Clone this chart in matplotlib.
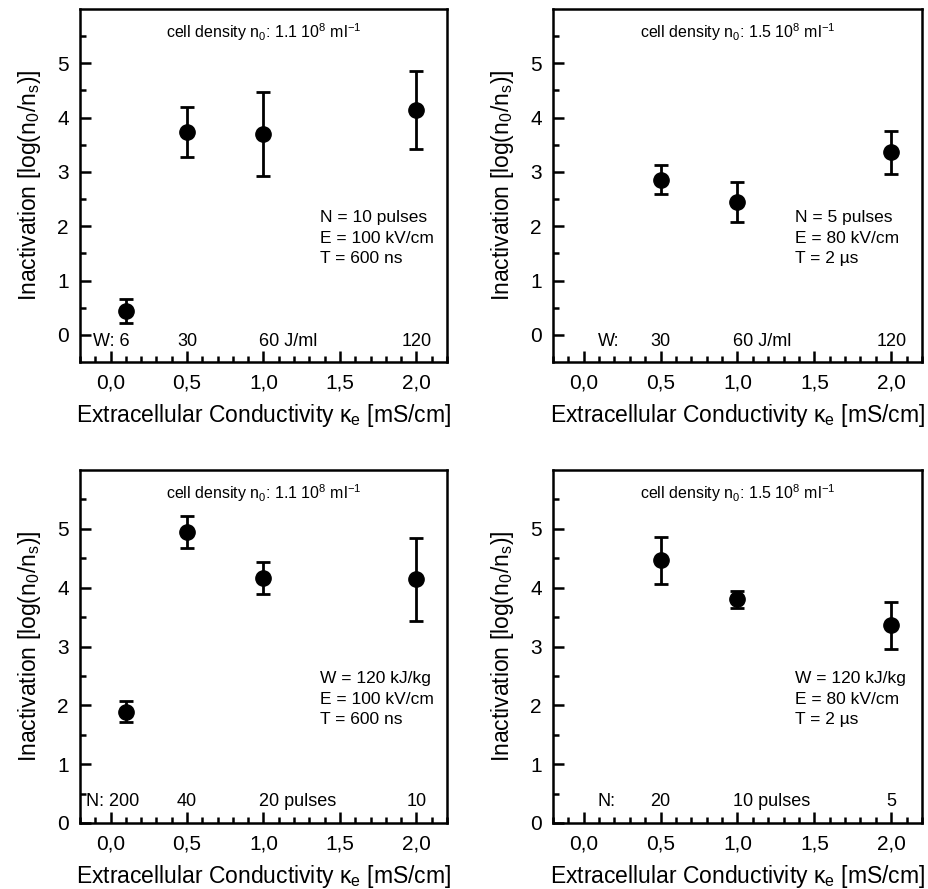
import matplotlib
matplotlib.use("Agg")
import matplotlib.pyplot as plt
from matplotlib.ticker import MultipleLocator, FixedLocator, FuncFormatter

plt.rcParams['font.family'] = ['Liberation Sans Narrow', 'Liberation Sans', 'DejaVu Sans']
plt.rcParams['mathtext.fontset'] = 'custom'
plt.rcParams['mathtext.rm'] = 'Liberation Sans'
plt.rcParams['mathtext.it'] = 'Liberation Sans'

# top-left: N = 10 pulses, varying W
x_tl = [0.1, 0.5, 1.0, 2.0]
y_tl = [0.43, 3.74, 3.70, 4.14]
lo_tl = [0.21, 3.27, 2.93, 3.42]
hi_tl = [0.66, 4.20, 4.47, 4.85]
lab_tl = ['W: 6', '30', '60 J/ml', '120']

# top-right: N = 5 pulses
x_tr = [0.5, 1.0, 2.0]
y_tr = [2.85, 2.45, 3.36]
lo_tr = [2.59, 2.07, 2.96]
hi_tr = [3.12, 2.82, 3.75]
lab_tr = ['W:', '30', '60 J/ml', '120']

# bottom-left: W = 120 kJ/kg, varying N
x_bl = [0.1, 0.5, 1.0, 2.0]
y_bl = [1.89, 4.94, 4.16, 4.14]
lo_bl = [1.72, 4.68, 3.89, 3.43]
hi_bl = [2.07, 5.22, 4.43, 4.85]
lab_bl = ['N: 200', '40', '20 pulses', '10']

# bottom-right
x_br = [0.5, 1.0, 2.0]
y_br = [4.47, 3.80, 3.36]
lo_br = [4.07, 3.65, 2.95]
hi_br = [4.86, 3.95, 3.76]
lab_br = ['N:', '20', '10 pulses', '5']

# position and alignment of the small labels along the bottom of each panel
lab_ha_full = ['right', 'center', 'left', 'center']
lab_ha_short = ['center', 'center', 'left', 'center']

W = 929
H = 889
fig = plt.figure(figsize=(W / 100, H / 100), dpi=100)


def box(l, r, t, b):
    return [l / W, 1 - b / H, (r - l) / W, (b - t) / H]


panels = [
    (box(80, 447, 9, 362), x_tl, y_tl, lo_tl, hi_tl, lab_tl, [0.125, 0.5, 0.97, 2.0], lab_ha_full, (-0.5, 6),
     'cell density n$_0$: 1.1 10$^8$ ml$^{\\mathrm{-1}}$', 'N = 10 pulses\nE = 100 kV/cm\nT = 600 ns', -0.12),
    (box(553, 922, 9, 362), x_tr, y_tr, lo_tr, hi_tr, lab_tr, [0.16, 0.5, 0.97, 2.0], lab_ha_short, (-0.5, 6),
     'cell density n$_0$: 1.5 10$^8$ ml$^{\\mathrm{-1}}$', 'N = 5 pulses\nE = 80 kV/cm\nT = 2 µs', -0.12),
    (box(80, 447, 470, 823), x_bl, y_bl, lo_bl, hi_bl, lab_bl, [0.185, 0.5, 0.97, 2.0], lab_ha_full, (0, 6),
     'cell density n$_0$: 1.1 10$^8$ ml$^{\\mathrm{-1}}$', 'W = 120 kJ/kg\nE = 100 kV/cm\nT = 600 ns', 0.36),
    (box(553, 922, 470, 823), x_br, y_br, lo_br, hi_br, lab_br, [0.15, 0.5, 0.97, 2.0], lab_ha_short, (0, 6),
     'cell density n$_0$: 1.5 10$^8$ ml$^{\\mathrm{-1}}$', 'W = 120 kJ/kg\nE = 80 kV/cm\nT = 2 µs', 0.36),
]

for rect, xs, ys, lo, hi, labs, labx, labha, ylim, title, info, laby in panels:
    ax = fig.add_axes(rect)
    yerr = [[y - l for y, l in zip(ys, lo)], [h - y for y, h in zip(ys, hi)]]
    ax.errorbar(xs, ys, yerr=yerr, fmt='o', color='black', ms=11,
                elinewidth=2, capsize=5, capthick=2)
    ax.set_xlim(-0.2, 2.2)
    ax.set_ylim(*ylim)
    ax.xaxis.set_major_locator(MultipleLocator(0.5))
    ax.xaxis.set_minor_locator(MultipleLocator(0.1))
    ax.yaxis.set_major_locator(FixedLocator([0, 1, 2, 3, 4, 5]))
    ax.yaxis.set_minor_locator(FixedLocator([0.5, 1.5, 2.5, 3.5, 4.5, 5.5]))
    ax.xaxis.set_major_formatter(FuncFormatter(lambda v, p: f'{v:.1f}'.replace('.', ',')))
    ax.tick_params(which='both', direction='in', width=1.8, labelsize=15,
                   top=False, right=False)
    ax.tick_params(which='major', length=8, pad=8)
    ax.tick_params(which='minor', length=4)
    for s in ax.spines.values():
        s.set_linewidth(1.8)
    ax.set_xlabel(r'Extracellular Conductivity κ$_\mathrm{e}$ [mS/cm]', fontsize=16.5, labelpad=7)
    ax.set_ylabel(r'Inactivation [log(n$_0$/n$_\mathrm{s}$)]', fontsize=16.5, labelpad=10)
    ax.text(0.5, 0.965, title, transform=ax.transAxes, ha='center', va='top', fontsize=11.5)
    ax.text(0.655, 0.43, info, transform=ax.transAxes, ha='left', va='top',
            fontsize=12.5, linespacing=1.45)
    for lx, lt, lh in zip(labx, labs, labha):
        ax.text(lx, laby, lt, ha=lh, va='center', fontsize=13)

fig.savefig('out.png', dpi=100)
